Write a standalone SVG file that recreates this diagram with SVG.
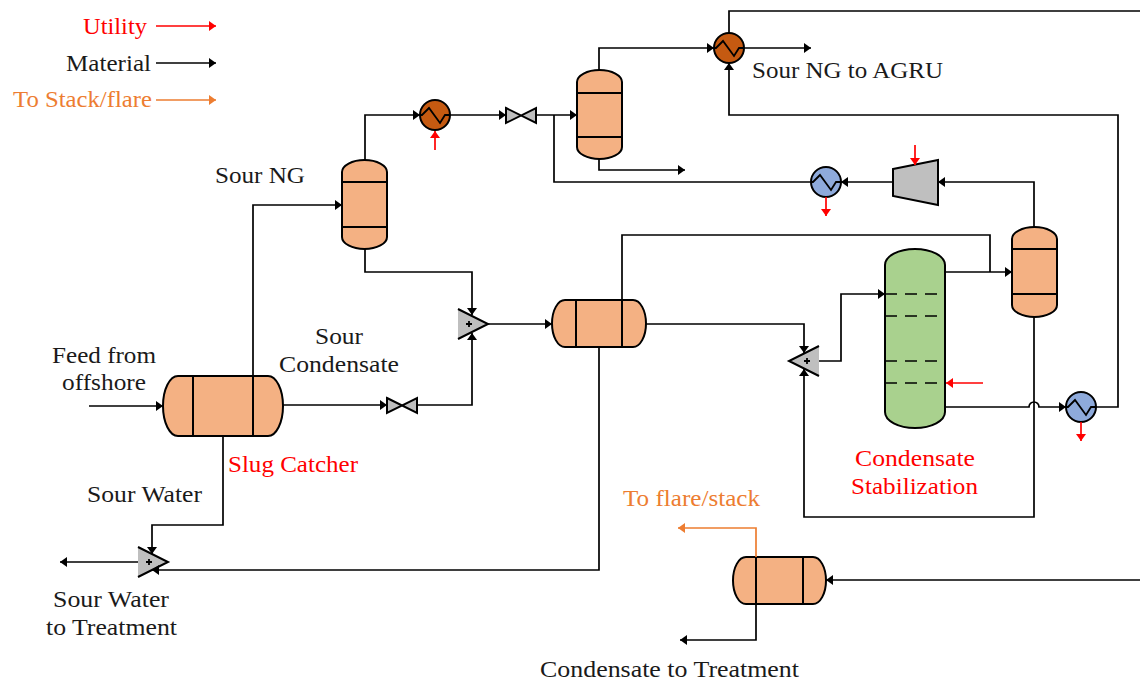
<svg xmlns="http://www.w3.org/2000/svg" width="1140" height="682" viewBox="0 0 1140 682">
<style>
text{font-family:"Liberation Serif","Times New Roman",serif;font-size:22.5px;fill:#1a1a1a}
text.r{fill:#ff0000}
text.o{fill:#ed7d31}
.v{fill:#f4b183;stroke:#000;stroke-width:2}
.d{fill:none;stroke:#000;stroke-width:2}
.c{fill:none;stroke:#000;stroke-width:1.7}
.a{marker-end:url(#k)}
.u{fill:none;stroke:#ff0000;stroke-width:1.7;marker-end:url(#rd)}
.f{fill:none;stroke:#ed7d31;stroke-width:1.7;marker-end:url(#or)}
.g{fill:#bfbfbf;stroke:#000;stroke-width:2}
.h1{fill:#c55a11;stroke:#000;stroke-width:2}
.h2{fill:#8eaadb;stroke:#000;stroke-width:2}
.t{fill:#a9d18e;stroke:#000;stroke-width:2}
.tr{fill:none;stroke:#000;stroke-width:1.7;stroke-dasharray:12 8}
</style>
<defs>
<marker id="k" markerUnits="userSpaceOnUse" markerWidth="8" markerHeight="12" refX="7" refY="5" orient="auto"><path d="M0,0L7,5L0,10Z" fill="#000"/></marker>
<marker id="rd" markerUnits="userSpaceOnUse" markerWidth="8" markerHeight="12" refX="7" refY="5" orient="auto"><path d="M0,0L7,5L0,10Z" fill="#ff0000"/></marker>
<marker id="or" markerUnits="userSpaceOnUse" markerWidth="8" markerHeight="12" refX="7" refY="5" orient="auto"><path d="M0,0L7,5L0,10Z" fill="#ed7d31"/></marker>
<path id="zig" d="M-15,0H-13L-6,-7L5,8L10,0H15" fill="none" stroke="#000" stroke-width="1.8"/>
<path id="plus" d="M-3,0H3M0,-3V3" stroke="#000" stroke-width="1.8" fill="none"/>
</defs>

<g id="slug-catcher">
<path class="v" d="M178,376H268A15,30 0 0 1 268,436H178A15,30 0 0 1 178,376Z"/>
<path class="d" d="M193,376V436M253,376V436"/>
</g>
<g id="separator-1">
<path class="v" d="M342,172A22.5,12 0 0 1 387,172V237A22.5,12 0 0 1 342,237Z"/>
<path class="d" d="M342,182H387M342,227H387"/>
</g>
<g id="separator-2">
<path class="v" d="M577,82A22.5,12 0 0 1 622,82V147A22.5,12 0 0 1 577,147Z"/>
<path class="d" d="M577,93H622M577,137H622"/>
</g>
<g id="separator-3">
<path class="v" d="M1012,239A22.5,12 0 0 1 1057,239V305A22.5,12 0 0 1 1012,305Z"/>
<path class="d" d="M1012,249H1057M1012,294H1057"/>
</g>
<g id="separator-4">
<path class="v" d="M565,300H633A13,23.5 0 0 1 633,347H565A13,23.5 0 0 1 565,300Z"/>
<path class="d" d="M576,300V347M622,300V347"/>
</g>
<g id="separator-5">
<path class="v" d="M746,557H813A13,23.5 0 0 1 813,604H746A13,23.5 0 0 1 746,557Z"/>
<path class="d" d="M756,557V604M803,557V604"/>
</g>
<g id="stabilizer">
<path class="t" d="M885,265A30,16 0 0 1 945,265V412A30,16 0 0 1 885,412Z"/>
<path class="tr" d="M885,294H938M885,316H938M885,361H938M885,383H938"/>
</g>
<g id="heater-1"><circle class="h1" cx="435" cy="115" r="15"/><use href="#zig" x="435" y="115"/></g>
<g id="heater-2"><circle class="h1" cx="729" cy="48" r="15"/><use href="#zig" x="729" y="48"/></g>
<g id="cooler-1"><circle class="h2" cx="826" cy="182" r="15"/><use href="#zig" x="826" y="182"/></g>
<g id="cooler-2"><circle class="h2" cx="1081" cy="407" r="15"/><use href="#zig" x="1081" y="407"/></g>
<g id="valve-1"><path class="g" d="M506,108L536,123V108L506,123Z"/></g>
<g id="valve-2"><path class="g" d="M387,398L417,413V398L387,413Z"/></g>
<g id="mixer-1"><path class="g" d="M458,309L488,324L458,339"/><use href="#plus" x="469" y="324"/></g>
<g id="mixer-2"><path class="g" d="M819,346L789,361L819,376"/><use href="#plus" x="807" y="361"/></g>
<g id="mixer-3"><path class="g" d="M138,547L168,562L138,577"/><use href="#plus" x="149" y="562"/></g>
<g id="compressor"><path class="g" d="M893,169L938,160V205L893,196Z"/></g>

<g id="connectors">
<path class="c a" d="M89,406H163"/>
<path class="c a" d="M253,376V205H342"/>
<path class="c a" d="M365,160V115H420"/>
<path class="c a" d="M450,115H506"/>
<path class="c a" d="M536,115H577"/>
<path class="c" d="M554,115V182H811"/>
<path class="c a" d="M599,70V48H714"/>
<path class="c a" d="M744,48H811"/>
<path class="c a" d="M599,159V170H685"/>
<path class="c" d="M729,33V11H1140"/>
<path class="c a" d="M1096,407H1118V115H729V63"/>
<path class="c a" d="M946,407H1029A5,5 0 0 1 1039,407H1066"/>
<path class="c a" d="M1034,227V182H938"/>
<path class="c a" d="M893,182H841"/>
<path class="c a" d="M946,272H1012"/>
<path class="c" d="M622,300V235H990V272"/>
<path class="c a" d="M1034,317V517H804V369"/>
<path class="c a" d="M646,324H804V353"/>
<path class="c a" d="M819,361H841V294H885"/>
<path class="c a" d="M365,249V272H472V315"/>
<path class="c a" d="M283,405H387"/>
<path class="c a" d="M417,405H472V333"/>
<path class="c a" d="M488,324H552"/>
<path class="c a" d="M599,347V570H152"/>
<path class="c a" d="M223,436V525H152V554"/>
<path class="c a" d="M138,562H60"/>
<path class="c a" d="M1140,580H826"/>
<path class="f" d="M756,557V528H678"/>
<path class="c a" d="M756,604V640H680"/>
<path class="u" d="M156,26H216"/>
<path class="c a" d="M156,63H216"/>
<path class="f" d="M156,100H216"/>
<path class="u" d="M435,150V131"/>
<path class="u" d="M826,197V216"/>
<path class="u" d="M915,145V165"/>
<path class="u" d="M1081,422V441"/>
<path class="u" d="M983,383H946"/>
</g>

<g id="labels">
<text class="r" x="83" y="34" textLength="64" lengthAdjust="spacingAndGlyphs">Utility</text>
<text x="66" y="71" textLength="85" lengthAdjust="spacingAndGlyphs">Material</text>
<text class="o" x="13" y="106.500" textLength="139" lengthAdjust="spacingAndGlyphs">To Stack/flare</text>
<text x="215" y="182.500" textLength="90" lengthAdjust="spacingAndGlyphs">Sour NG</text>
<text x="752" y="78" textLength="191" lengthAdjust="spacingAndGlyphs">Sour NG to AGRU</text>
<text x="52" y="362.500" textLength="104" lengthAdjust="spacingAndGlyphs">Feed from</text>
<text x="62" y="390" textLength="84" lengthAdjust="spacingAndGlyphs">offshore</text>
<text x="315" y="344" textLength="48" lengthAdjust="spacingAndGlyphs">Sour</text>
<text x="279" y="372" textLength="120" lengthAdjust="spacingAndGlyphs">Condensate</text>
<text class="r" x="228" y="472" textLength="130" lengthAdjust="spacingAndGlyphs">Slug Catcher</text>
<text x="87" y="502" textLength="115" lengthAdjust="spacingAndGlyphs">Sour Water</text>
<text x="53" y="607" textLength="116" lengthAdjust="spacingAndGlyphs">Sour Water</text>
<text x="46" y="635" textLength="131" lengthAdjust="spacingAndGlyphs">to Treatment</text>
<text class="r" x="855" y="466" textLength="120" lengthAdjust="spacingAndGlyphs">Condensate</text>
<text class="r" x="851" y="494" textLength="127" lengthAdjust="spacingAndGlyphs">Stabilization</text>
<text class="o" x="623" y="506" textLength="137" lengthAdjust="spacingAndGlyphs">To flare/stack</text>
<text x="540" y="677" textLength="259" lengthAdjust="spacingAndGlyphs">Condensate to Treatment</text>
</g>
</svg>
